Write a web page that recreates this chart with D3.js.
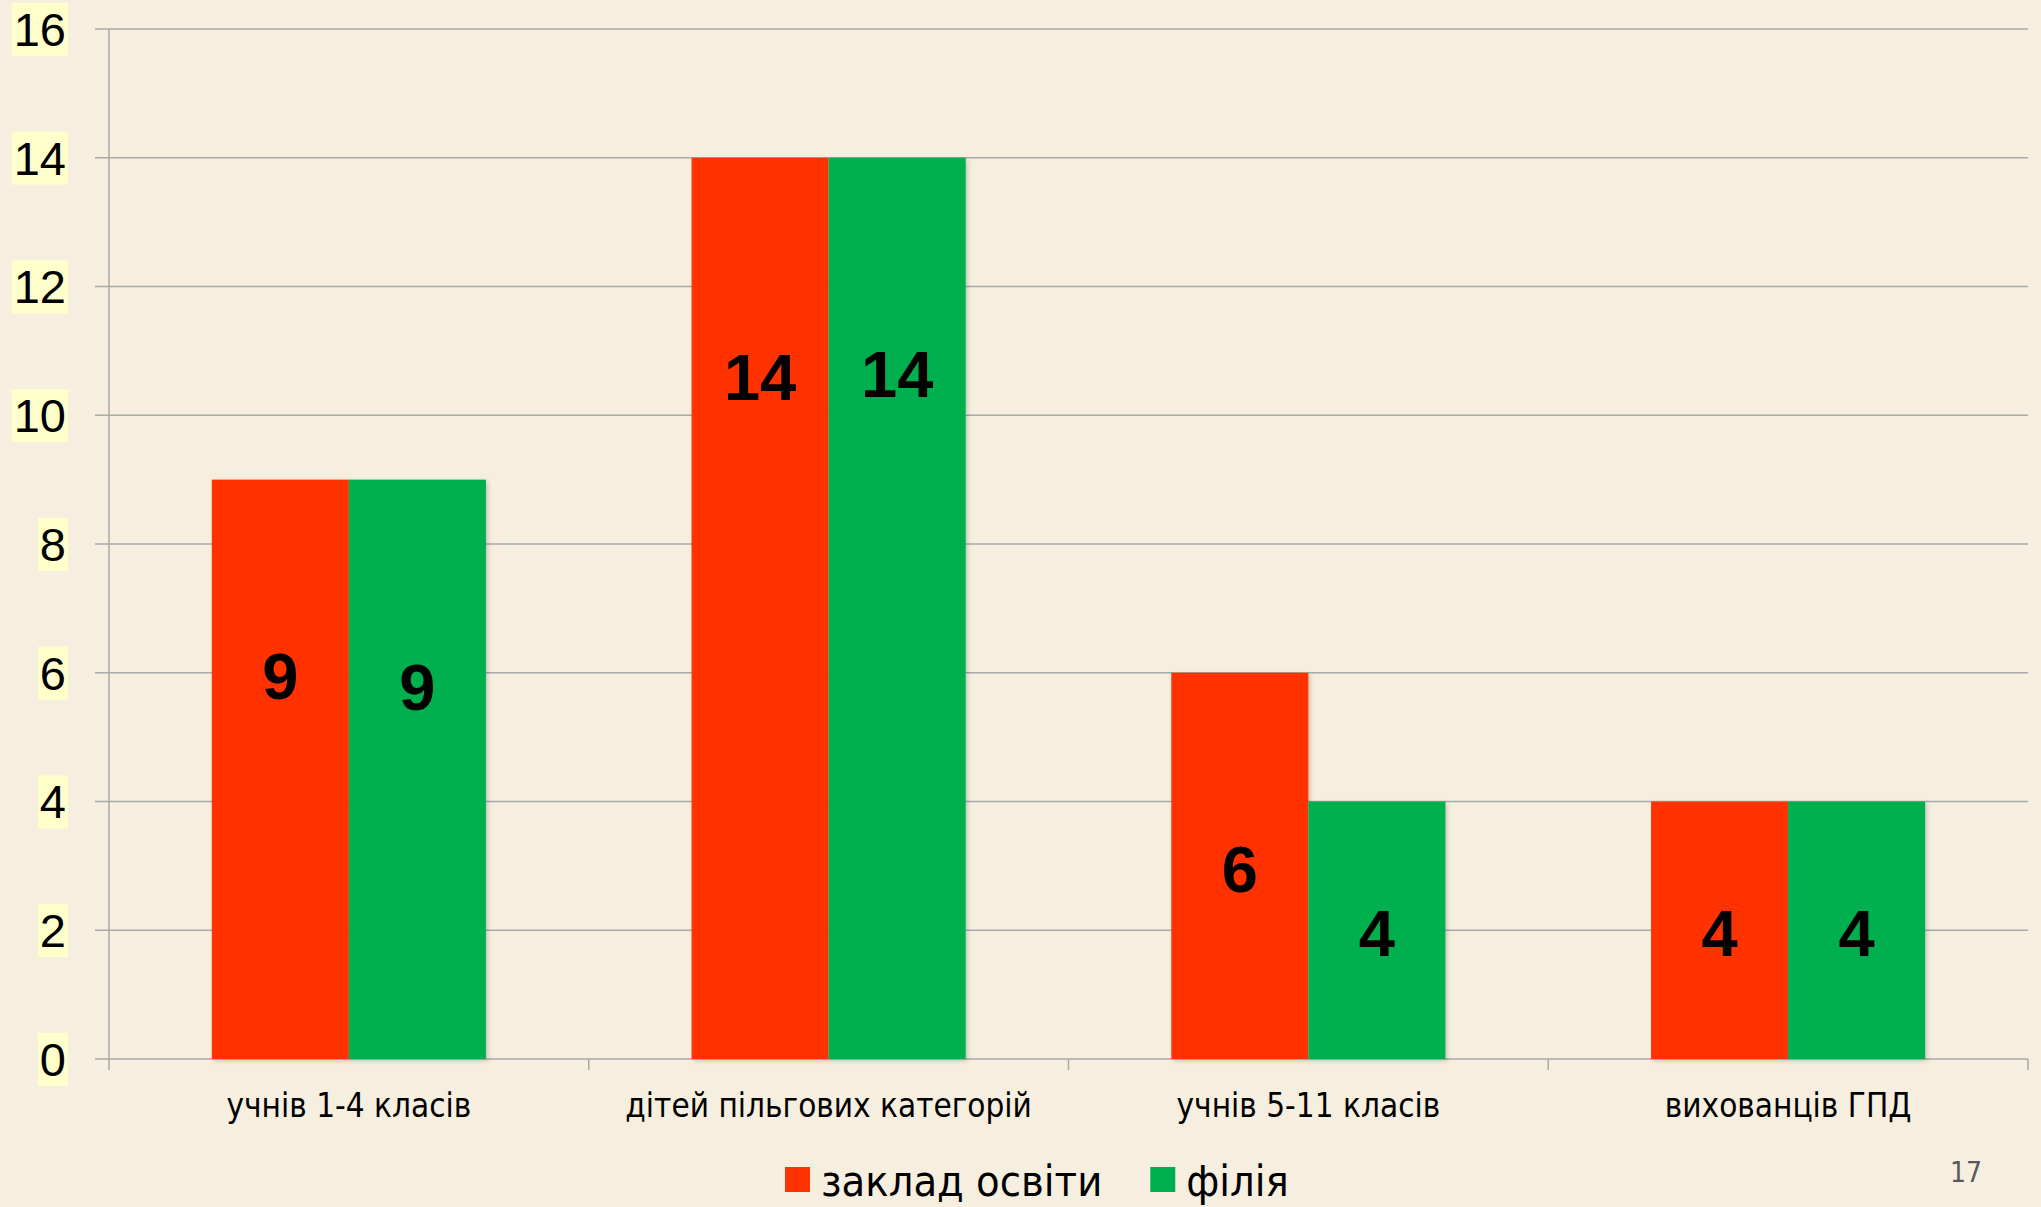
<!DOCTYPE html>
<html>
<head>
<meta charset="utf-8">
<script src="https://cdn.jsdelivr.net/npm/d3@7"></script>
<style>
  html, body { margin: 0; padding: 0; background: #F6EFDF; }
  svg { display: block; }
</style>
</head>
<body>
<div id="chart"></div>
<script>
// categories and series
const categories = ['учнів 1-4 класів', 'дітей пільгових категорій', 'учнів 5-11 класів', 'вихованців ГПД'];
const seriesNames = ['заклад освіти', 'філія'];
const zakladValues = [9, 14, 6, 4];
const filiaValues = [9, 14, 4, 4];
// where the value labels sit, in data units (placed by hand in the original)
const zakladLabelAt = [5.95, 10.6, 2.95, 1.97];
const filiaLabelAt = [5.78, 10.65, 1.97, 1.97];
const yTicks = [0, 2, 4, 6, 8, 10, 12, 14, 16];
const pageNumber = '17';

const W = 2041, H = 1207;
const colors = ['#FF3300', '#00B050'];
const narrow = "'Liberation Sans Narrow', 'DejaVu Sans Condensed', 'Open Sans', sans-serif";
const arial = "'Liberation Sans', Arial, sans-serif";

const svg = d3.select('#chart').append('svg')
  .attr('width', W).attr('height', H);

svg.append('rect').attr('width', W).attr('height', H).attr('fill', '#F6EFDF');

const defs = svg.append('defs');
const shadow = defs.append('filter').attr('id', 'shadow')
  .attr('x', '-10%').attr('y', '-10%').attr('width', '130%').attr('height', '130%');
shadow.append('feDropShadow').attr('dx', 2).attr('dy', 2).attr('stdDeviation', 2)
  .attr('flood-color', '#000').attr('flood-opacity', 0.18);

const x = d3.scaleBand().domain(categories).range([109, 2028]).paddingInner(0).paddingOuter(0);
const x1 = d3.scaleBand().domain(seriesNames).range([0, x.bandwidth()]).paddingInner(0).paddingOuter(0.75);
const y = d3.scaleLinear().domain([0, 16]).range([1059, 29]);

// gridlines + left ticks
svg.append('g')
  .selectAll('line')
  .data(yTicks)
  .join('line')
  .attr('x1', 95).attr('x2', 2028)
  .attr('y1', d => y(d)).attr('y2', d => y(d))
  .attr('stroke', '#A9A9A9').attr('stroke-width', 1.5);

// y axis line
svg.append('line')
  .attr('x1', 109).attr('x2', 109).attr('y1', y(16)).attr('y2', y(0))
  .attr('stroke', '#A9A9A9').attr('stroke-width', 1.5);

// category ticks
const catEdges = categories.map(c => x(c)).concat([x.range()[1]]);
svg.append('g')
  .selectAll('line')
  .data(catEdges)
  .join('line')
  .attr('x1', d => d).attr('x2', d => d)
  .attr('y1', y(0)).attr('y2', y(0) + 11)
  .attr('stroke', '#A9A9A9').attr('stroke-width', 1.5);

// y tick labels with highlighted boxes
const yl = svg.append('g');
yTicks.forEach(t => {
  const g = yl.append('g');
  const txt = g.append('text')
    .attr('x', 66).attr('y', y(t))
    .attr('dy', '0.36em')
    .attr('text-anchor', 'end')
    .attr('font-family', arial)
    .attr('font-size', 47)
    .attr('fill', '#000')
    .text(t);
  const bb = txt.node().getBBox();
  g.insert('rect', 'text')
    .attr('x', bb.x - 2).attr('y', bb.y)
    .attr('width', bb.width + 4).attr('height', bb.height)
    .attr('fill', '#FFFFCC');
});

// bars
const seriesData = [zakladValues, filiaValues];
const labelData = [zakladLabelAt, filiaLabelAt];
const bars = [];
categories.forEach((c, i) => {
  seriesNames.forEach((s, j) => {
    bars.push({ cat: c, series: s, j: j, value: seriesData[j][i], labelAt: labelData[j][i] });
  });
});

svg.append('g')
  .attr('filter', 'url(#shadow)')
  .selectAll('rect')
  .data(bars)
  .join('rect')
  .attr('x', d => x(d.cat) + x1(d.series))
  .attr('y', d => y(d.value))
  .attr('width', x1.bandwidth())
  .attr('height', d => y(0) - y(d.value))
  .attr('fill', d => colors[d.j]);

// value labels
svg.append('g')
  .selectAll('text')
  .data(bars)
  .join('text')
  .attr('x', d => x(d.cat) + x1(d.series) + x1.bandwidth() / 2)
  .attr('y', d => y(d.labelAt))
  .attr('dy', '0.36em')
  .attr('text-anchor', 'middle')
  .attr('font-family', arial)
  .attr('font-weight', 'bold')
  .attr('font-size', 65)
  .attr('fill', '#000')
  .text(d => d.value);

// category labels
svg.append('g')
  .selectAll('text')
  .data(categories)
  .join('text')
  .attr('x', d => x(d) + x.bandwidth() / 2)
  .attr('y', 1117)
  .attr('text-anchor', 'middle')
  .attr('font-family', narrow)
  .attr('font-size', 33)
  .attr('fill', '#000')
  .text(d => d);

// legend
const legend = svg.append('g');
let lx = 785;
seriesNames.forEach((s, j) => {
  legend.append('rect')
    .attr('x', lx).attr('y', 1167)
    .attr('width', 25).attr('height', 25)
    .attr('fill', colors[j]);
  const t = legend.append('text')
    .attr('x', lx + 36).attr('y', 1196)
    .attr('font-family', narrow)
    .attr('font-size', 43)
    .attr('fill', '#000')
    .text(s);
  lx = lx + 36 + t.node().getComputedTextLength() + 48;
});

// slide number
svg.append('text')
  .attr('x', 1966).attr('y', 1182)
  .attr('text-anchor', 'middle')
  .attr('font-family', narrow)
  .attr('font-size', 28)
  .attr('fill', '#595959')
  .text(pageNumber);
</script>
</body>
</html>
